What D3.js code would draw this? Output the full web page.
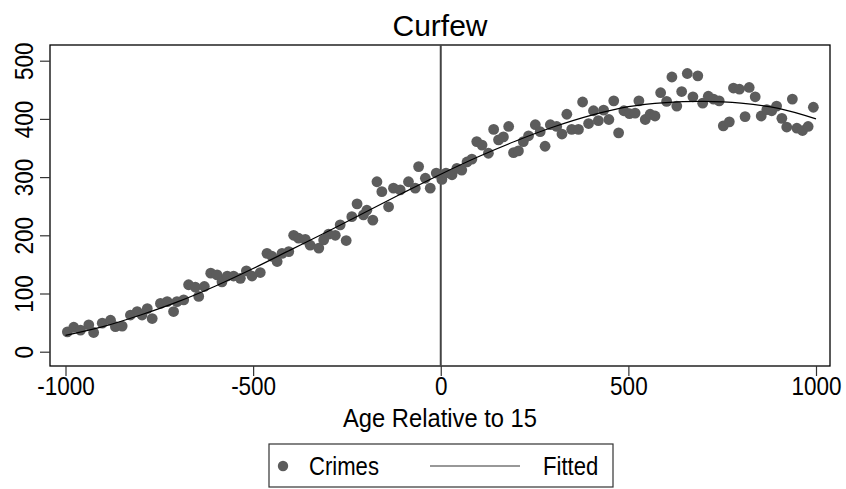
<!DOCTYPE html>
<html>
<head>
<meta charset="utf-8">
<script src="https://cdn.jsdelivr.net/npm/d3@7/dist/d3.min.js"></script>
<style>
  html, body { margin: 0; padding: 0; background: #fff; }
  svg { display: block; }
  text { font-family: "Liberation Sans", Arial, Helvetica, sans-serif; fill: #000; }
</style>
</head>
<body>
<svg id="chart" width="846" height="489"></svg>
<script>
// Crimes by age relative to 15 (scatter) with a fitted curve
const crimeAge = [
  -995,-978,-960,-938,-925,-902,-880,-867,-849,-827,-809,-796,-782,-769,-747,-729,-712,-703,-685,-672,
  -654,-645,-630,-613,-596,-583,-569,-552,-534,-518,-503,-481,-463,-450,-436,-423,-405,-392,-379,-361,
  -348,-325,-312,-299,-281,-268,-252,-237,-223,-206,-197,-181,-170,-157,-139,-126,-108,-86,-68,-59,
  -41,-28,-12,3,14,30,43,56,70,83,96,110,127,141,154,167,181,194,207,220,
  234,252,265,278,292,309,323,336,349,367,378,394,407,420,434,448,461,474,488,503,
  518,528,545,558,571,586,602,616,629,642,657,672,685,698,713,727,742,753,769,780,
  796,811,822,838,854,869,882,895,909,922,937,949,964,979,993
];
const crimeCount = [
  34,42,37,46,33,49,54,43,44,63,69,63,74,57,83,86,69,86,89,115,
  111,95,112,135,132,120,130,130,126,139,130,136,169,164,155,169,172,200,195,193,
  183,178,192,202,200,218,191,232,254,235,243,226,292,275,249,281,278,292,281,318,
  298,281,307,296,307,304,315,312,326,331,361,355,341,382,364,369,387,342,345,361,
  371,390,378,353,390,387,374,408,382,382,429,392,414,397,415,399,431,376,414,409,
  410,431,399,408,405,445,430,472,422,447,478,438,474,427,439,434,431,388,395,453,
  451,404,454,438,405,416,414,422,401,386,434,384,380,387,420
];

// Fitted values at every 100 units of age
const fitAge = [-1000,-900,-800,-700,-600,-500,-400,-300,-200,-100,0,100,200,300,400,500,600,700,800,900,1000];
const fitValue = [28,43,63,86,113,143,175,207,240,273,305,335,362,386,406,421,428,430,427,418,400];

const xTicks = [-1000,-500,0,500,1000];
const yTicks = [0,100,200,300,400,500];

const title = "Curfew";
const xTitle = "Age Relative to 15";
const legendLabels = ["Crimes", "Fitted"];

const svg = d3.select("#chart");

// plot frame
const frame = { left: 50, right: 830, top: 45, bottom: 366 };

const x = d3.scaleLinear().domain([-1000, 1000]).range([65.5, 816]);
const y = d3.scaleLinear().domain([0, 500]).range([351.7, 60.7]);

svg.append("rect")
  .attr("x", frame.left).attr("y", frame.top)
  .attr("width", frame.right - frame.left).attr("height", frame.bottom - frame.top)
  .attr("fill", "#fff").attr("stroke", "#000").attr("stroke-width", 1.3);

const fmt = d => d < 0 ? "-" + Math.abs(d) : String(d);

// x axis
const xAxis = svg.append("g")
  .attr("transform", `translate(0,${frame.bottom})`)
  .call(d3.axisBottom(x).tickValues(xTicks).tickSize(10).tickPadding(1).tickFormat(fmt));
xAxis.select(".domain").remove();
xAxis.selectAll(".tick line").attr("stroke", "#333").attr("stroke-width", 1.2);
xAxis.selectAll(".tick text")
  .attr("font-size", 25).attr("font-family", "Liberation Sans, Arial, sans-serif")
  .attr("fill", "#000")
  .attr("transform", "scale(0.9,1)");

// y axis
const yAxis = svg.append("g")
  .attr("transform", `translate(${frame.left},0)`)
  .call(d3.axisLeft(y).tickValues(yTicks).tickSize(10).tickPadding(0).tickFormat(fmt));
yAxis.select(".domain").remove();
yAxis.selectAll(".tick line").attr("stroke", "#333").attr("stroke-width", 1.2);
yAxis.selectAll(".tick text")
  .attr("font-size", 25).attr("font-family", "Liberation Sans, Arial, sans-serif")
  .attr("fill", "#000")
  .attr("x", null).attr("dy", null)
  .attr("text-anchor", "middle")
  .attr("transform", "translate(-17,0) rotate(-90) scale(0.9,1)");

// reference line at age 0
svg.append("line")
  .attr("x1", x(0)).attr("x2", x(0))
  .attr("y1", frame.top).attr("y2", frame.bottom)
  .attr("stroke", "#444").attr("stroke-width", 2);

// scatter points
const pts = crimeAge.map((a, i) => ({ a, v: crimeCount[i] }));
svg.append("g").selectAll("circle")
  .data(pts).enter().append("circle")
  .attr("cx", d => x(d.a)).attr("cy", d => y(d.v))
  .attr("r", 5.4).attr("fill", "#5c5c5c");

// fitted curve
const fitPts = fitAge.map((a, i) => [a, fitValue[i]]);
svg.append("path")
  .datum(fitPts)
  .attr("d", d3.line().x(d => x(d[0])).y(d => y(d[1])).curve(d3.curveCatmullRom))
  .attr("fill", "none").attr("stroke", "#000").attr("stroke-width", 1.2);

// condensed text helper: horizontal squeeze around the anchor point
function label(parent, tx, ty, str, size, sx, anchor) {
  return parent.append("text")
    .attr("transform", `translate(${tx},${ty}) scale(${sx},1)`)
    .attr("text-anchor", anchor)
    .attr("font-size", size)
    .text(str);
}

// title and axis title
label(svg, 440, 36, title, 30, 1, "middle");
label(svg, 440, 427, xTitle, 25, 0.95, "middle");

// legend
const lg = svg.append("g");
lg.append("rect").attr("x", 269).attr("y", 444).attr("width", 344).attr("height", 43)
  .attr("fill", "#fff").attr("stroke", "#333").attr("stroke-width", 1.2);
lg.append("circle").attr("cx", 283).attr("cy", 466).attr("r", 5.2).attr("fill", "#5c5c5c");
label(lg, 309, 475, legendLabels[0], 26, 0.85, "start");
lg.append("line").attr("x1", 430).attr("x2", 520).attr("y1", 466).attr("y2", 466)
  .attr("stroke", "#333").attr("stroke-width", 1.2);
label(lg, 543, 475, legendLabels[1], 26, 0.85, "start");
</script>
</body>
</html>
